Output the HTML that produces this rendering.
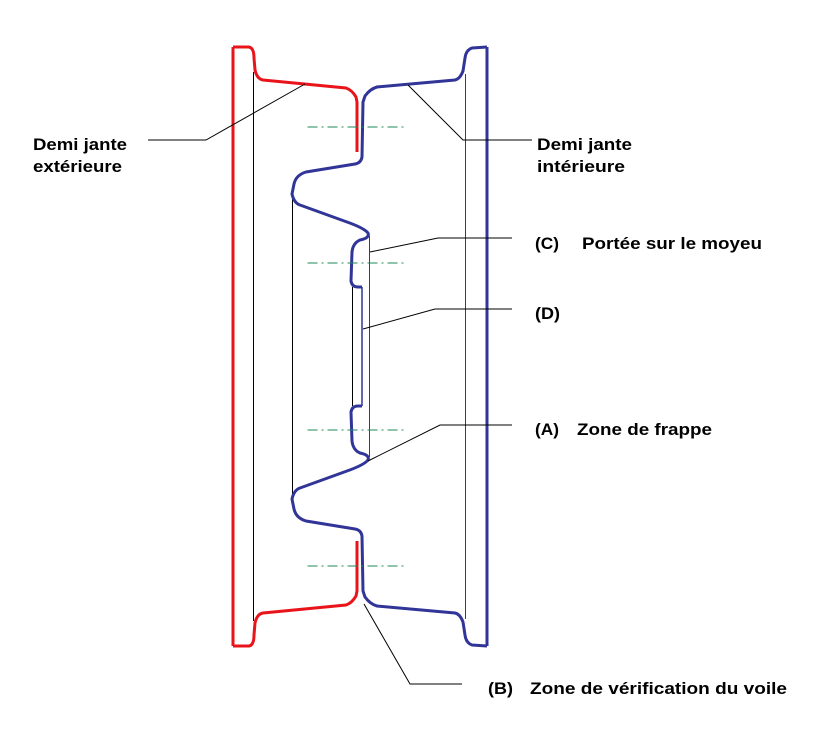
<!DOCTYPE html>
<html><head><meta charset="utf-8"><style>
html,body{margin:0;padding:0;background:#fff}
svg{display:block}
text{font-family:"Liberation Sans",Arial,sans-serif;font-weight:bold;font-size:17px;fill:#000}
</style></head><body>
<svg width="833" height="730" viewBox="0 0 833 730" xmlns="http://www.w3.org/2000/svg">
<defs>
<g id="half">
 <path d="M233,47 L249,47 Q254,48 254,58 L255,70 Q257,79 263,80 L346,88 Q352,90 356,97 L357,102 L357,152" fill="none" stroke="#e8141a" stroke-width="3"/>
 <path d="M487,47 L472,48 Q466,50 465,58 L463,71 Q460,79 455,80 L377,87 Q370,89 365,96 L363,102 L362,157 Q361,163 355,164 L306,172 Q296,175 294,184 L292,194 Q294,203 300,205 L347,222 Q364,228 368,233 Q370,238 360,240 Q353,243 352,252 L351,281 Q352,287 358,287 L362,287" fill="none" stroke="#313597" stroke-width="3"/>
 <line x1="307.5" y1="127" x2="405" y2="127" stroke="#1f8a5a" stroke-width="1" stroke-dasharray="10,4,2,4"/>
 <line x1="307.5" y1="263" x2="405" y2="263" stroke="#1f8a5a" stroke-width="1" stroke-dasharray="10,4,2,4"/>
</g>
</defs>
<line x1="233" y1="47" x2="233" y2="646" stroke="#e8141a" stroke-width="3"/>
<line x1="487" y1="47" x2="487" y2="646" stroke="#313597" stroke-width="3"/>
<line x1="253.5" y1="72" x2="253.5" y2="621" stroke="#000" stroke-width="1"/>
<line x1="465.5" y1="74" x2="465.5" y2="619" stroke="#313597" stroke-width="1"/>
<line x1="292.5" y1="194" x2="292.5" y2="499" stroke="#000" stroke-width="1"/>
<line x1="352.5" y1="287" x2="352.5" y2="406" stroke="#000" stroke-width="1"/>
<line x1="362" y1="287" x2="362" y2="406" stroke="#313597" stroke-width="1.5"/>
<line x1="369.5" y1="236" x2="369.5" y2="457" stroke="#313597" stroke-width="1"/>
<use href="#half"/>
<use href="#half" transform="matrix(1,0,0,-1,0,693)"/>
<g fill="none" stroke="#000" stroke-width="1">
<polyline points="305,84 206,140 148,140"/>
<polyline points="408,85 463,140 532,140"/>
<polyline points="370,252 438,238 512,238"/>
<polyline points="363,329 435,309 512,309"/>
<polyline points="368,461 440,425 512,425"/>
<polyline points="364,604 410,684 462,684"/>
</g>
<text x="33" y="150" textLength="94" lengthAdjust="spacingAndGlyphs">Demi jante</text>
<text x="33" y="172" textLength="89" lengthAdjust="spacingAndGlyphs">extérieure</text>
<text x="537" y="150" textLength="95" lengthAdjust="spacingAndGlyphs">Demi jante</text>
<text x="537" y="172" textLength="88" lengthAdjust="spacingAndGlyphs">intérieure</text>
<text x="535" y="249" textLength="24" lengthAdjust="spacingAndGlyphs">(C)</text><text x="582" y="249" textLength="180" lengthAdjust="spacingAndGlyphs">Portée sur le moyeu</text>
<text x="535" y="319" textLength="25" lengthAdjust="spacingAndGlyphs">(D)</text>
<text x="535" y="435" textLength="24" lengthAdjust="spacingAndGlyphs">(A)</text><text x="577" y="435" textLength="135" lengthAdjust="spacingAndGlyphs">Zone de frappe</text>
<text x="488" y="694" textLength="25" lengthAdjust="spacingAndGlyphs">(B)</text><text x="530" y="694" textLength="257" lengthAdjust="spacingAndGlyphs">Zone de vérification du voile</text>
</svg>
</body></html>
